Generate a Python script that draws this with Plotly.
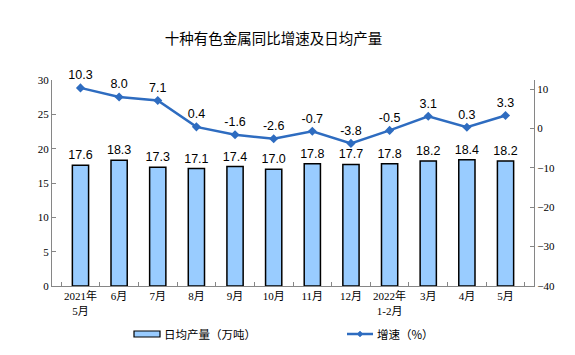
import plotly.graph_objects as go

categories = ["2021年<br>5月", "6月", "7月", "8月", "9月", "10月", "11月", "12月",
              "2022年<br>1-2月", "3月", "4月", "5月"]
output_vals = [17.6, 18.3, 17.3, 17.1, 17.4, 17.0, 17.8, 17.7, 17.8, 18.2, 18.4, 18.2]
growth_vals = [10.3, 8.0, 7.1, 0.4, -1.6, -2.6, -0.7, -3.8, -0.5, 3.1, 0.3, 3.3]
legend_labels = ["日均产量（万吨）", "增速（%）"]

axis_font = dict(family="Liberation Serif, Noto Sans CJK SC", size=11, color="#000000")
label_font = dict(family="Liberation Sans, Arial", size=12.5, color="#000000")
cjk = "Noto Sans CJK SC, Liberation Sans"
BLUE = "#2E6CC0"

# page body has an 8px default margin; work in screen pixels and subtract it
OFF = 8
W, H = 575 - OFF, 355 - OFF
# plot area in screen pixels: left 52, right 534, top 80, bottom 286
L, R, T, B = 52 - OFF, 534 - OFF, 80 - OFF, 286 - OFF
def px(x):
    return (x - OFF - L) / (R - L)
def py(y):
    return (B - (y - OFF)) / (B - T)

fig = go.Figure()
fig.add_trace(go.Bar(
    x=categories, y=output_vals, name=legend_labels[0],
    marker=dict(color="#99CCFF", line=dict(color="#000000", width=1.5)),
    width=0.42,
    text=[f"{v:.1f}" for v in output_vals], textposition="outside",
    textfont=label_font, cliponaxis=False, constraintext="none",
))
fig.add_trace(go.Scatter(
    x=categories, y=growth_vals, name=legend_labels[1], yaxis="y2",
    mode="lines+markers+text",
    line=dict(color=BLUE, width=2.5),
    marker=dict(symbol="diamond", size=7, color=BLUE),
    text=[f"{v:.1f}" for v in growth_vals], textposition="top center",
    textfont=label_font, cliponaxis=False,
))

shapes = [
    dict(type="rect", xref="paper", yref="paper",
         x0=px(134), x1=px(160), y0=py(337), y1=py(331),
         fillcolor="#99CCFF", line=dict(color="#000000", width=1.2)),
    dict(type="line", xref="paper", yref="paper",
         x0=px(347), x1=px(373), y0=py(334), y1=py(334),
         line=dict(color=BLUE, width=2.5)),
    dict(type="path", xref="paper", yref="paper",
         path=f"M {px(360)},{py(331)} L {px(363)},{py(334)} L {px(360)},{py(337)} L {px(357)},{py(334)} Z",
         fillcolor=BLUE, line=dict(color=BLUE, width=0.5)),
]
annotations = [
    dict(text=legend_labels[0], xref="paper", yref="paper", x=px(162), y=py(334),
         xanchor="left", yanchor="middle", showarrow=False,
         font=dict(family=cjk, size=11.5, color="#000000")),
    dict(text=legend_labels[1], xref="paper", yref="paper", x=px(375), y=py(334),
         xanchor="left", yanchor="middle", showarrow=False,
         font=dict(family=cjk, size=11.5, color="#000000")),
]

fig.update_layout(
    width=W, height=H,
    margin=dict(l=L, r=W - R, t=T, b=H - B),
    paper_bgcolor="#FFFFFF", plot_bgcolor="#FFFFFF",
    title=dict(text="十种有色金属同比增速及日均产量", x=(273.5 - OFF) / W, xanchor="center",
               y=1 - (38.5 - OFF) / H, yanchor="middle",
               font=dict(family=cjk, size=14.5, color="#000000")),
    bargap=0.58,
    xaxis=dict(showline=True, linecolor="#868686", linewidth=1, tickangle=0,
               ticks="inside", tickson="boundaries", ticklen=4, tickcolor="#868686",
               tickfont=dict(family="Liberation Serif, Noto Sans CJK SC", size=11, color="#000000"),
               showgrid=False, automargin=False),
    yaxis=dict(range=[0, 30], dtick=5, showline=True, linecolor="#868686", linewidth=1,
               ticks="inside", ticklen=4, tickcolor="#868686", showgrid=False,
               zeroline=False, tickfont=axis_font, automargin=False),
    yaxis2=dict(range=[-40, 12.3], tickvals=[-40, -30, -20, -10, 0, 10], overlaying="y",
                side="right", showline=True, linecolor="#868686", linewidth=1,
                ticks="inside", ticklen=4, tickcolor="#868686", showgrid=False,
                zeroline=False, tickfont=axis_font, automargin=False),
    showlegend=False,
    shapes=shapes,
    annotations=annotations,
)

fig.write_html("out.html")
